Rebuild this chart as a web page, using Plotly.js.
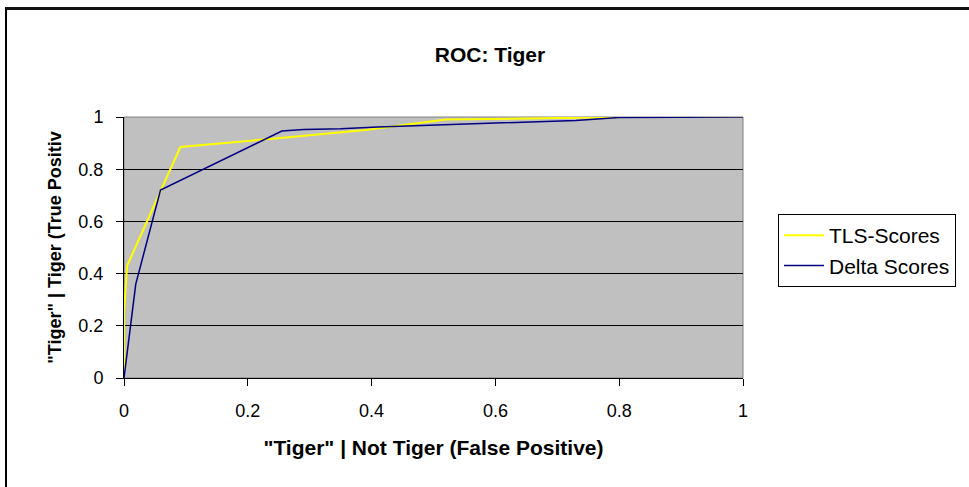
<!DOCTYPE html>
<html>
<head>
<meta charset="utf-8">
<script src="https://cdn.plot.ly/plotly-3.0.1.min.js"></script>
<style>
  html, body { margin: 0; padding: 0; background: #fff; overflow: hidden; }
  #chart { width: 969px; height: 487px; position: absolute; left: 0; top: 0; }
  #frame { position: absolute; left: 5px; top: 7px; width: 1000px; height: 1000px;
           border-top: 3px solid #111; border-left: 2px solid #000; pointer-events: none; }
</style>
</head>
<body>
<div id="chart"></div>
<div id="frame"></div>
<script>
// ROC data
const tlsFalsePos  = [0, 0, 0.005, 0.091, 0.24, 0.39, 0.52, 0.82, 1.0];
const tlsTruePos   = [0, 0.25, 0.43, 0.885, 0.917, 0.95, 0.99, 1.0, 1.0];
const deltaFalsePos = [0, 0.019, 0.059, 0.255, 0.29, 0.35, 0.41, 0.47, 0.54, 0.60, 0.66, 0.73, 0.80, 1.0];
const deltaTruePos  = [0, 0.36, 0.72, 0.946, 0.952, 0.955, 0.962, 0.967, 0.974, 0.979, 0.983, 0.987, 0.998, 1.0];
const seriesNames = ["TLS-Scores", "Delta Scores"];
const tickVals = [0, 0.2, 0.4, 0.6, 0.8, 1];
const tickText = ["0", "0.2", "0.4", "0.6", "0.8", "1"];

const font = "Liberation Sans, Arial, sans-serif";

const traces = [
  { x: tlsFalsePos, y: tlsTruePos, name: seriesNames[0], mode: "lines",
    line: { color: "#ffff00", width: 2 }, legendgroup: "a" },
  { x: deltaFalsePos, y: deltaTruePos, name: seriesNames[1], mode: "lines",
    line: { color: "#000080", width: 1.5 }, legendgroup: "b" }
];

const axisCommon = {
  range: [0, 1], tickvals: tickVals, ticktext: tickText,
  showline: true, linecolor: "#000", linewidth: 1,
  ticks: "outside", ticklen: 7, tickcolor: "#000", tickwidth: 1,
  tickfont: { family: font, size: 18, color: "#000" },
  zeroline: false, fixedrange: true
};

const layout = {
  width: 969, height: 487,
  margin: { l: 124, r: 226, t: 117, b: 109 },
  paper_bgcolor: "#ffffff",
  plot_bgcolor: "#c0c0c0",
  title: { text: "<b>ROC: Tiger</b>", font: { family: font, size: 21, color: "#000" },
           x: 490 / 969, xanchor: "center", y: 1 - 55 / 487, yanchor: "middle" },
  xaxis: Object.assign({}, axisCommon, {
    showgrid: false, ticklabelstandoff: 9,
    title: { text: "<b>\"Tiger\" | Not Tiger (False Positive)</b>",
             font: { family: font, size: 21, color: "#000" }, standoff: 20 }
  }),
  yaxis: Object.assign({}, axisCommon, {
    showgrid: true, gridcolor: "#000", gridwidth: 1, ticklabelstandoff: 9,
    title: { text: "<b>\"Tiger\" | Tiger (True Positiv</b>",
             font: { family: font, size: 18, color: "#000" }, standoff: 12 }
  }),
  shapes: [
    { type: "rect", xref: "paper", yref: "paper", x0: 0, x1: 1, y0: 0, y1: 1,
      line: { color: "#808080", width: 1 }, layer: "between" }
  ],
  showlegend: true,
  legend: {
    x: (778 - 124) / 619, y: (378 - 214) / 261, xanchor: "left", yanchor: "top",
    bgcolor: "#ffffff", bordercolor: "#000", borderwidth: 1,
    font: { family: font, size: 21, color: "#000" },
    tracegroupgap: 0, itemwidth: 40
  }
};

Plotly.newPlot("chart", traces, layout, { displayModeBar: false, staticPlot: true });
</script>
</body>
</html>
